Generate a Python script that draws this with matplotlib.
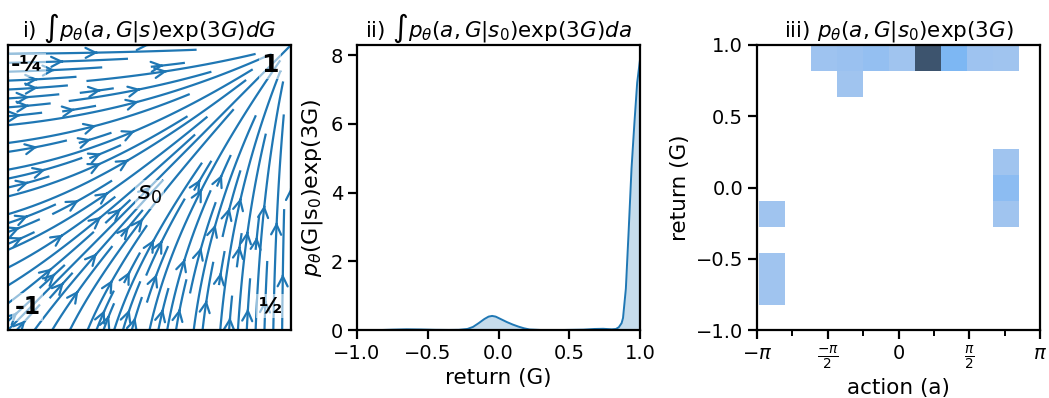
import matplotlib

matplotlib.use("Agg")
import matplotlib.pyplot as plt
import numpy as np
import seaborn as sns

# --- panel i: returns at the four corners of the state space (labels only) ---
corner_labels = ["-\u00bc", "1", "-1", "\u00bd"]
corner_sizes = [16, 18, 17, 16]

# --- panel ii: weighted density of the return ---
ret_G = [-0.826, -0.75, -0.65, -0.55, -0.45, -0.35, -0.28, -0.22, -0.18, -0.14,
         -0.10, -0.07, -0.045, -0.02, 0.02, 0.06, 0.10, 0.14, 0.18, 0.22,
         0.30, 0.45, 0.60, 0.68, 0.74, 0.80, 0.83, 0.85, 0.87, 0.88,
         0.90, 0.92, 0.94, 0.96, 0.98, 1.0]
dens_G = [0.0, 0.01, 0.02, 0.015, 0.005, 0.002, 0.005, 0.03, 0.09, 0.2,
          0.32, 0.39, 0.41, 0.39, 0.31, 0.23, 0.16, 0.1, 0.05, 0.015,
          0.0, 0.0, 0.01, 0.03, 0.035, 0.02, 0.03, 0.08, 0.2, 0.35,
          1.2, 2.9, 4.7, 6.0, 7.2, 7.87]

# --- panel iii: 2d histogram cells (bin index + weight) ---
a_min, a_max, n_a = -3.09, 2.68, 10
g_min, g_max, n_g = -0.8235, 1.0, 10
a_edges = np.linspace(a_min, a_max, n_a + 1)
g_edges = np.linspace(g_min, g_max, n_g + 1)
a_step = (a_max - a_min) / n_a
g_step = (g_max - g_min) / n_g
cell_ai = [2, 3, 4, 5, 6, 7, 8, 9, 3, 9, 9, 9, 0, 0, 0]
cell_gi = [9, 9, 9, 9, 9, 9, 9, 9, 8, 5, 4, 3, 3, 1, 0]
cell_w = [1.1, 1.4, 1.8, 1.0, 20.0, 3.3, 1.1, 1.0, 1.0, 1.0, 2.4, 1.0, 1.0, 1.0, 1.0]
cell_a = [a_min + (i + 0.5) * a_step for i in cell_ai]
cell_g = [g_min + (j + 0.5) * g_step for j in cell_gi]

plt.rcParams.update({
    "font.size": 14,
    "axes.titlesize": 15.5,
    "axes.labelsize": 15.5,
    "axes.linewidth": 1.6,
    "xtick.major.width": 1.6, "ytick.major.width": 1.6,
    "xtick.minor.width": 1.4,
    "xtick.major.size": 6.5, "ytick.major.size": 6.5, "xtick.minor.size": 4.5,
})

fig = plt.figure(figsize=(10.49, 3.98), dpi=100)
W, H = 1049, 398
def box(l, t, r, b):
    return [l / W, 1 - b / H, (r - l) / W, (b - t) / H]

ax1 = fig.add_axes(box(8, 45, 291, 330))
ax2 = fig.add_axes(box(357, 45, 640, 330))
ax3 = fig.add_axes(box(757, 45, 1040, 330))

# i) schematic flow towards the best corner (sink at top right)
gx = np.linspace(0, 1, 40)
X, Y = np.meshgrid(gx, gx)
U = (1 - X) * (Y + 0.4)
V = (1 - Y) * (X + 0.4)
ax1.streamplot(X, Y, U, V, color="#1f77b4", density=1.1, linewidth=1.6,
               arrowstyle="->", arrowsize=1.8)
ax1.set_xlim(0, 1)
ax1.set_ylim(0, 1)
ax1.set_xticks([])
ax1.set_yticks([])
pos = [(0.068, 0.93), (0.926, 0.93), (0.07, 0.081), (0.926, 0.084)]
for (px, py), lbl, fs in zip(pos, corner_labels, corner_sizes):
    ax1.text(px, py, lbl, ha="center", va="center", fontsize=fs, weight="bold",
             bbox=dict(boxstyle="square,pad=0.1", fc="white", ec="none", alpha=0.55))
ax1.text(0.50, 0.477, r"$s_0$", ha="center", va="center", fontsize=18,
         bbox=dict(boxstyle="square,pad=0.1", fc="white", ec="none", alpha=0.55))
ax1.set_title(r"i) $\int p_\theta(a,G|s)\mathrm{exp}(3G)dG$")

# ii) weighted marginal over returns
ax2.plot(ret_G, dens_G, color="#1f77b4", lw=1.4)
ax2.fill_between(ret_G, dens_G, color="#1f77b4", alpha=0.25, lw=0)
ax2.set_xlim(-1, 1)
ax2.set_ylim(0, 8.3)
ax2.set_xticks([-1.0, -0.5, 0.0, 0.5, 1.0])
ax2.set_yticks([0, 2, 4, 6, 8])
ax2.set_xlabel("return (G)")
ax2.set_ylabel(r"$p_\theta$(G|s$_0$)exp(3G)", fontsize=16)
ax2.set_title(r"ii) $\int p_\theta(a,G|s_0)\mathrm{exp}(3G)da$")

# iii) joint histogram
sns.histplot(x=cell_a, y=cell_g, weights=cell_w, bins=[a_edges, g_edges],
             color="#1f77b4", ax=ax3)
ax3.set_xlim(-np.pi, np.pi)
ax3.set_ylim(-1, 1)
ax3.set_xticks([-np.pi, -np.pi / 2, 0, np.pi / 2, np.pi])
ax3.set_xticklabels([r"$-\pi$", r"$\frac{-\pi}{2}$", "0", r"$\frac{\pi}{2}$", r"$\pi$"])
ax3.set_xticks([-3 * np.pi / 4, -np.pi / 4, np.pi / 4, 3 * np.pi / 4], minor=True)
ax3.set_yticks([-1.0, -0.5, 0.0, 0.5, 1.0])
ax3.set_xlabel("action (a)")
ax3.set_ylabel("return (G)")
ax3.set_title(r"iii) $p_\theta(a,G|s_0)\mathrm{exp}(3G)$")

fig.savefig("out.png", dpi=100)
